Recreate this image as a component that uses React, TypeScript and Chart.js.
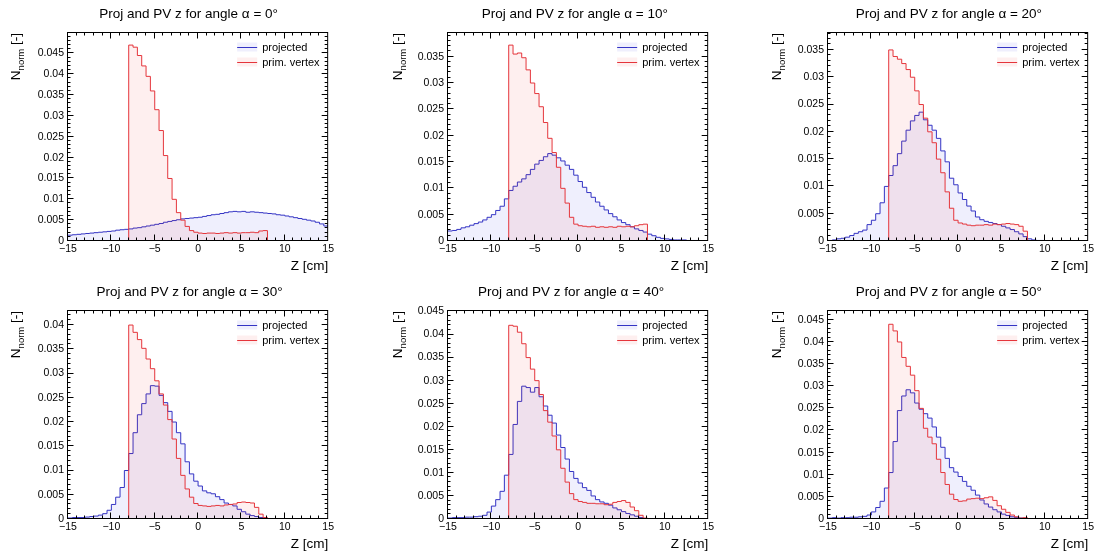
import React, { useEffect, useRef } from 'react';
import { Chart, registerables } from 'chart.js';

Chart.register(...registerables);

// ---------- data ----------
const Z_MIN = -15;
const Z_MAX = 15;
const BIN_WIDTH = 0.5;
const PV_MIN = -8;
const PV_MAX = 8;

const angles = [0, 10, 20, 30, 40, 50];
const yMax = [0.0499, 0.0395, 0.0381, 0.0429, 0.0451, 0.047];
const legendLabels = ['projected', 'prim. vertex'];

const projected0 = [
  0.0014, 0.0015, 0.0016, 0.0017, 0.0018, 0.0019, 0.002, 0.0021, 0.0022, 0.0023,
  0.0024, 0.0026, 0.0027, 0.0028, 0.0029, 0.0031, 0.0032, 0.0034, 0.0036, 0.0038,
  0.004, 0.0042, 0.0045, 0.0047, 0.0049, 0.0051, 0.0053, 0.0054, 0.0055, 0.0056,
  0.0057, 0.0059, 0.0061, 0.0063, 0.0064, 0.0066, 0.0068, 0.007, 0.0071, 0.007,
  0.0071, 0.0069, 0.007, 0.0069, 0.0068, 0.0067, 0.0066, 0.0065, 0.0063, 0.0062,
  0.006, 0.0058, 0.0056, 0.0054, 0.0052, 0.005, 0.0048, 0.0045, 0.0041, 0.0036,
];
const primVertex0 = [
  0.047, 0.0465, 0.0445, 0.042, 0.0395, 0.036, 0.0315, 0.0265, 0.0205, 0.015,
  0.01, 0.0068, 0.005, 0.0035, 0.0025, 0.0021, 0.0019, 0.0018, 0.0019, 0.0019,
  0.0018, 0.0019, 0.002, 0.0019, 0.002, 0.0019, 0.002, 0.002, 0.0021, 0.002,
  0.0024, 0.0025,
];

const projected10 = [
  0.0019, 0.002, 0.0022, 0.0025, 0.0027, 0.003, 0.0033, 0.0036, 0.004, 0.0045,
  0.005, 0.0058, 0.0066, 0.008, 0.0096, 0.0104, 0.0112, 0.0118, 0.0126, 0.0136,
  0.0146, 0.0153, 0.016, 0.0166, 0.0163, 0.0158, 0.0152, 0.0144, 0.0136, 0.0125,
  0.0113, 0.0102, 0.0092, 0.0083, 0.0074, 0.0066, 0.0059, 0.0052, 0.0046, 0.004,
  0.0035, 0.0031, 0.0027, 0.0023, 0.002, 0.0017, 0.0013, 0.001, 0.0007, 0.0005,
  0.0004, 0.0003, 0.0002, 0.0002, 0.0002, 0.0001, 0.0001, 0.0001, 0.0, 0.0,
];
const primVertex10 = [
  0.0372, 0.0355, 0.0357, 0.0348, 0.0325, 0.03, 0.028, 0.0255, 0.0225, 0.0195,
  0.0168, 0.014, 0.01, 0.0072, 0.0045, 0.0032, 0.0029, 0.0028, 0.0027, 0.0028,
  0.0026, 0.0027, 0.0026, 0.0027, 0.0026, 0.0028, 0.0027, 0.0028, 0.0027, 0.0029,
  0.0031, 0.0032,
];

const projected20 = [
  0.0001, 0.0002, 0.0004, 0.0005, 0.0007, 0.001, 0.0014, 0.0017, 0.002, 0.003,
  0.0038, 0.005, 0.007, 0.01, 0.012, 0.0138, 0.016, 0.0183, 0.0203, 0.022,
  0.023, 0.0236, 0.0222, 0.0212, 0.0203, 0.0188, 0.0165, 0.0145, 0.0115, 0.0103,
  0.0088, 0.0076, 0.0064, 0.0055, 0.0044, 0.0039, 0.0036, 0.0034, 0.0032, 0.003,
  0.0027, 0.0024, 0.0021, 0.0017, 0.0013, 0.0008, 0.0004, 0.0002, 0.0001, 0.0001,
  0, 0, 0, 0, 0, 0, 0, 0, 0, 0,
];
const primVertex20 = [
  0.035, 0.0338, 0.0333, 0.0325, 0.0314, 0.03, 0.0275, 0.025, 0.0225, 0.02,
  0.018, 0.015, 0.0125, 0.009, 0.006, 0.0038, 0.0033, 0.0031, 0.0029, 0.0028,
  0.0029, 0.0029, 0.003, 0.0029, 0.0031, 0.003, 0.0031, 0.0032, 0.0031, 0.003,
  0.0027, 0.0018,
];

const projected30 = [
  0.0002, 0.0003, 0.0003, 0.0003, 0.0004, 0.0005, 0.0006, 0.0008, 0.0011, 0.0018,
  0.003, 0.0045, 0.0065, 0.01, 0.0135, 0.0178, 0.0215, 0.0238, 0.0258, 0.0275,
  0.0274, 0.0255, 0.024, 0.0222, 0.02, 0.0178, 0.0155, 0.0118, 0.0093, 0.0078,
  0.0068, 0.0058, 0.0054, 0.0052, 0.0046, 0.004, 0.0033, 0.003, 0.0027, 0.002,
  0.0015, 0.001, 0.0007, 0.0005, 0.0003, 0.0002, 0.0001, 0.0001, 0, 0,
  0, 0, 0, 0, 0, 0, 0, 0, 0, 0,
];
const primVertex30 = [
  0.04, 0.0385, 0.037, 0.0352, 0.033, 0.031, 0.0285, 0.0258, 0.0235, 0.0205,
  0.0165, 0.0125, 0.009, 0.0062, 0.0045, 0.0032, 0.0028, 0.0027, 0.0026, 0.0027,
  0.0028, 0.0027, 0.0029, 0.003, 0.0031, 0.0034, 0.0035, 0.0034, 0.0033, 0.0024,
  0.001, 0.0003,
];

const projected40 = [
  0.0002, 0.0003, 0.0003, 0.0003, 0.0004, 0.0004, 0.0005, 0.0006, 0.0008, 0.0015,
  0.0028, 0.0042, 0.006, 0.0095, 0.014, 0.0205, 0.0255, 0.0288, 0.0285, 0.0275,
  0.0285, 0.0265, 0.0245, 0.0225, 0.0208, 0.0182, 0.0155, 0.013, 0.0103, 0.0088,
  0.0078, 0.0068, 0.0062, 0.005, 0.0042, 0.0037, 0.0034, 0.003, 0.0024, 0.002,
  0.0016, 0.0012, 0.0009, 0.0006, 0.0003, 0.0001, 0, 0, 0, 0,
  0, 0, 0, 0, 0, 0, 0, 0, 0, 0,
];
const primVertex40 = [
  0.042, 0.0418, 0.0405, 0.038, 0.035, 0.0325, 0.03, 0.027, 0.0235, 0.021,
  0.018, 0.015, 0.011, 0.008, 0.0055, 0.0042, 0.0038, 0.0036, 0.0034, 0.0034,
  0.0033, 0.0033, 0.0031, 0.0032, 0.0036, 0.0038, 0.004, 0.0036, 0.0026, 0.0018,
  0.0008, 0.0002,
];

const projected50 = [
  0.0002, 0.0003, 0.0002, 0.0003, 0.0003, 0.0004, 0.0004, 0.0005, 0.0006, 0.0009,
  0.0016, 0.0026, 0.004, 0.007, 0.0105, 0.0175, 0.0245, 0.0278, 0.0292, 0.0285,
  0.0262, 0.0248, 0.0238, 0.0228, 0.0208, 0.0185, 0.0162, 0.0137, 0.0116, 0.0106,
  0.0096, 0.0085, 0.0074, 0.0065, 0.0054, 0.0043, 0.0034, 0.0027, 0.0021, 0.0016,
  0.0011, 0.0008, 0.0005, 0.0003, 0.0002, 0.0001, 0, 0, 0, 0,
  0, 0, 0, 0, 0, 0, 0, 0, 0, 0,
];
const primVertex50 = [
  0.044, 0.0425, 0.04, 0.0365, 0.0345, 0.0325, 0.029, 0.025, 0.0205, 0.0185,
  0.017, 0.0135, 0.0105, 0.0078, 0.0056, 0.0044, 0.004, 0.0041, 0.0045, 0.0046,
  0.0047, 0.0046, 0.0048, 0.005, 0.0042, 0.003, 0.0022, 0.0015, 0.0009, 0.0005,
  0.0002, 0.0003,
];

const projectedSeries = [projected0, projected10, projected20, projected30, projected40, projected50];
const primVertexSeries = [primVertex0, primVertex10, primVertex20, primVertex30, primVertex40, primVertex50];

// ---------- layout / style ----------
const FONT = '"Liberation Sans", Arial, Helvetica, sans-serif';
const BLUE = '#3434c4';
const RED = '#e5353b';
const BLUE_FILL = 'rgba(40, 40, 230, 0.075)';
const RED_FILL = 'rgba(235, 40, 40, 0.075)';

const CANVAS_W = 336;
const CANVAS_H = 275;
const panelLeft = [0, 380, 760, 0, 380, 760];
const panelTop = [0, 0, 0, 278, 278, 278];
const titleDx = [120.6, 126.8, 120.9, 121.5, 123.1, 120.9];
const yTitleDx = [-48.5, -46, -47, -48.5, -46, -47];

function projectedPoints(vals: number[]) {
  const pts = vals.map((v, i) => ({ x: Z_MIN + i * BIN_WIDTH, y: v }));
  pts.push({ x: Z_MIN + vals.length * BIN_WIDTH, y: vals[vals.length - 1] });
  return pts;
}

function primVertexPoints(vals: number[]) {
  const pts = [{ x: Z_MIN, y: 0 }];
  vals.forEach((v, i) => pts.push({ x: PV_MIN + i * BIN_WIDTH, y: v }));
  pts.push({ x: PV_MAX, y: 0 });
  pts.push({ x: Z_MAX, y: 0 });
  return pts;
}

function makeDecor(idx: number) {
  return {
    id: 'rootDecor' + idx,
    afterDatasetsDraw(chart: any) {
      const { ctx, chartArea: a, scales } = chart;
      const xs = scales.x;
      const ys = scales.y;
      ctx.save();
      ctx.strokeStyle = '#000';
      ctx.lineWidth = 1;
      // frame
      ctx.strokeRect(a.left - 0.5, a.top - 0.5, a.right - a.left, a.bottom - a.top);
      ctx.beginPath();
      // x ticks
      for (let v = Z_MIN + 1; v < Z_MAX; v += 1) {
        const px = Math.round(xs.getPixelForValue(v)) - 0.5;
        const len = v % 5 === 0 ? 6 : 3;
        ctx.moveTo(px, a.bottom - 0.5);
        ctx.lineTo(px, a.bottom - 0.5 - len);
        ctx.moveTo(px, a.top - 0.5);
        ctx.lineTo(px, a.top - 0.5 + len);
      }
      // y ticks
      for (let k = 1; k * 0.001 < yMax[idx]; k++) {
        const py = Math.round(ys.getPixelForValue(k * 0.001)) - 0.5;
        const len = k % 5 === 0 ? 6 : 3;
        ctx.moveTo(a.left - 0.5, py);
        ctx.lineTo(a.left - 0.5 + len, py);
        ctx.moveTo(a.right - 0.5, py);
        ctx.lineTo(a.right - 0.5 - len, py);
      }
      ctx.stroke();

      ctx.fillStyle = '#000';
      // title
      ctx.font = `13.5px ${FONT}`;
      ctx.textAlign = 'center';
      ctx.textBaseline = 'alphabetic';
      ctx.fillText(`Proj and PV z for angle \u03b1 = ${angles[idx]}\u00b0`, a.left + titleDx[idx], a.top - 15.5);
      // x title
      ctx.textAlign = 'right';
      ctx.fillText('Z [cm]', a.right, a.bottom + 29);
      // y title (rotated, with subscript)
      ctx.save();
      ctx.translate(a.left + yTitleDx[idx], a.top);
      ctx.rotate(-Math.PI / 2);
      ctx.textAlign = 'left';
      const big = `13.5px ${FONT}`;
      const small = `9.5px ${FONT}`;
      ctx.font = big;
      const wN = ctx.measureText('N').width;
      const wRest = ctx.measureText(' [-]').width;
      ctx.font = small;
      const wSub = ctx.measureText('norm').width;
      let x0 = -(wN + wSub + wRest);
      ctx.font = big;
      ctx.fillText('N', x0, 0);
      x0 += wN;
      ctx.font = small;
      ctx.fillText('norm', x0, 4);
      x0 += wSub;
      ctx.font = big;
      ctx.fillText(' [-]', x0, 0);
      ctx.restore();

      // legend
      const rows = [a.top + 14, a.top + 29];
      const lineColors = [BLUE, RED];
      const fills = [BLUE_FILL, RED_FILL];
      ctx.font = `11px ${FONT}`;
      ctx.textAlign = 'left';
      ctx.textBaseline = 'middle';
      rows.forEach((ry, i) => {
        ctx.fillStyle = fills[i];
        ctx.fillRect(a.right - 91, ry - 4.5, 20, 9);
        ctx.strokeStyle = lineColors[i];
        ctx.beginPath();
        ctx.moveTo(a.right - 91, Math.round(ry) + 0.5);
        ctx.lineTo(a.right - 71, Math.round(ry) + 0.5);
        ctx.stroke();
        ctx.fillStyle = '#000';
        ctx.fillText(legendLabels[i], a.right - 66, ry + 0.5);
      });
      ctx.restore();
    },
  };
}

function Panel({ idx }: { idx: number }) {
  const ref = useRef<HTMLCanvasElement | null>(null);
  useEffect(() => {
    if (!ref.current) return;
    const chart = new Chart(ref.current, {
      type: 'line',
      data: {
        datasets: [
          {
            label: legendLabels[0],
            data: projectedPoints(projectedSeries[idx]),
            borderColor: BLUE,
            backgroundColor: BLUE_FILL,
            borderWidth: 1,
            fill: 'origin',
            stepped: 'before',
            pointRadius: 0,
            order: 2,
          },
          {
            label: legendLabels[1],
            data: primVertexPoints(primVertexSeries[idx]),
            borderColor: RED,
            backgroundColor: RED_FILL,
            borderWidth: 1,
            fill: 'origin',
            stepped: 'before',
            pointRadius: 0,
            order: 1,
          },
        ],
      },
      options: {
        animation: false,
        responsive: false,
        maintainAspectRatio: false,
        events: [],
        layout: { padding: { top: 33, right: 7, left: 0, bottom: 0 } },
        plugins: {
          legend: { display: false },
          title: { display: false },
          tooltip: { enabled: false },
        },
        scales: {
          x: {
            type: 'linear',
            min: Z_MIN,
            max: Z_MAX,
            grid: { display: false, drawTicks: false },
            border: { display: false },
            ticks: {
              stepSize: 5,
              autoSkip: false,
              maxRotation: 0,
              padding: 2,
              color: '#000',
              font: { family: FONT, size: 10.5 },
              callback: (v: any) => (Number(v) < 0 ? '\u2212' + Math.abs(Number(v)) : String(v)),
            },
            afterFit: (s: any) => {
              s.height = 34;
            },
          },
          y: {
            min: 0,
            max: yMax[idx],
            grid: { display: false, drawTicks: false },
            border: { display: false },
            ticks: {
              stepSize: 0.005,
              includeBounds: false,
              padding: 4,
              color: '#000',
              font: { family: FONT, size: 10.5 },
              callback: (v: any) => String(parseFloat(Number(v).toFixed(3))),
            },
            afterFit: (s: any) => {
              s.width = 68;
            },
          },
        },
      },
      plugins: [makeDecor(idx)],
    } as any);
    return () => chart.destroy();
  }, [idx]);
  return (
    <canvas
      ref={ref}
      width={CANVAS_W}
      height={CANVAS_H}
      style={{
        position: 'absolute',
        left: panelLeft[idx],
        top: panelTop[idx],
        width: CANVAS_W,
        height: CANVAS_H,
      }}
    />
  );
}

export default function App() {
  return (
    <div
      style={{
        position: 'absolute',
        left: 0,
        top: 0,
        width: 1096,
        height: 553,
        overflow: 'hidden',
        background: '#fff',
      }}
    >
      {angles.map((_, i) => (
        <Panel key={i} idx={i} />
      ))}
    </div>
  );
}
